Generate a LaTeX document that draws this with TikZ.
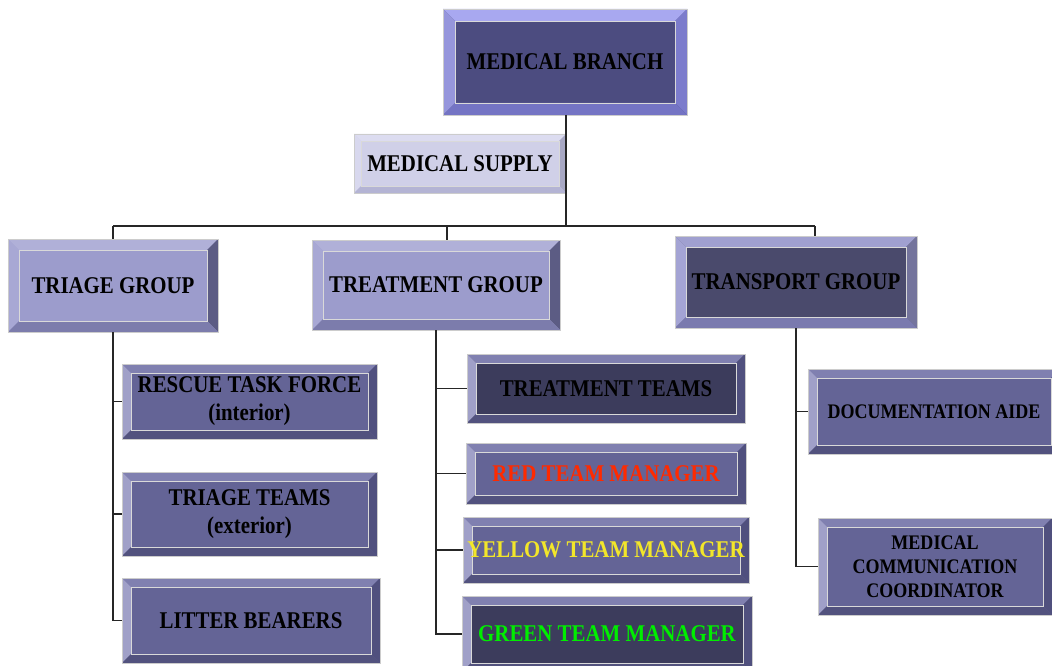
\documentclass[tikz,border=0pt]{standalone}
\usepackage{fontspec}
\setmainfont{Liberation Serif}[FakeStretch=0.87]
\usetikzlibrary{calc}
\definecolor{mbface}{HTML}{4C4C80}
\definecolor{mbtop}{HTML}{A8A8F0}
\definecolor{mbleft}{HTML}{9696DC}
\definecolor{mbright}{HTML}{7C7CCC}
\definecolor{mbbot}{HTML}{7474C4}
\definecolor{spface}{HTML}{D0D0E8}
\definecolor{sptop}{HTML}{DCDCF0}
\definecolor{spleft}{HTML}{D8D8EE}
\definecolor{spright}{HTML}{A8A8C4}
\definecolor{spbot}{HTML}{B4B4D4}
\definecolor{gpface}{HTML}{9C9CCC}
\definecolor{gptop}{HTML}{B0B0D8}
\definecolor{gpleft}{HTML}{A8A8D4}
\definecolor{gpright}{HTML}{5C5C84}
\definecolor{gpbot}{HTML}{7C7CAC}
\definecolor{tpface}{HTML}{4A4A6C}
\definecolor{tptop}{HTML}{A0A0D0}
\definecolor{tpleft}{HTML}{A4A4D4}
\definecolor{tpright}{HTML}{74749C}
\definecolor{tpbot}{HTML}{7A7AAE}
\definecolor{sbface}{HTML}{646496}
\definecolor{sbtop}{HTML}{8080B0}
\definecolor{sbleft}{HTML}{A0A0C8}
\definecolor{sbright}{HTML}{50507E}
\definecolor{sbbot}{HTML}{52527E}
\definecolor{dkface}{HTML}{3C3C5C}
\definecolor{redtxt}{HTML}{FF2A00}
\definecolor{yeltxt}{HTML}{F2E62A}
\definecolor{grntxt}{HTML}{00EE00}
\newcommand{\bevels}[5]{%
  \fill[#2] (path picture bounding box.north west) -- (path picture bounding box.north east)
     -- ([shift={(-#1,-#1)}]path picture bounding box.north east) -- ([shift={(#1,-#1)}]path picture bounding box.north west) -- cycle;
  \fill[#3] (path picture bounding box.north west) -- (path picture bounding box.south west)
     -- ([shift={(#1,#1)}]path picture bounding box.south west) -- ([shift={(#1,-#1)}]path picture bounding box.north west) -- cycle;
  \fill[#4] (path picture bounding box.north east) -- (path picture bounding box.south east)
     -- ([shift={(-#1,#1)}]path picture bounding box.south east) -- ([shift={(-#1,-#1)}]path picture bounding box.north east) -- cycle;
  \fill[#5] (path picture bounding box.south west) -- (path picture bounding box.south east)
     -- ([shift={(-#1,#1)}]path picture bounding box.south east) -- ([shift={(#1,#1)}]path picture bounding box.south west) -- cycle;
  \draw[white!85!black, line width=0.6pt] ([shift={(#1,-#1)}]path picture bounding box.north west) rectangle ([shift={(-#1,#1)}]path picture bounding box.south east);
}
\tikzset{
  box/.style={anchor=north west, inner sep=0pt, outer sep=0pt, align=center,
    draw=black!20, line width=0.8pt, font=\bfseries\fontsize{24}{28}\selectfont},
  smalltext/.style={font=\bfseries\fontsize{20.7}{24}\selectfont},
  branchbox/.style={box, fill=mbface, path picture={\bevels{12pt}{mbtop}{mbleft}{mbright}{mbbot}}},
  supplybox/.style={box, fill=spface, path picture={\bevels{7pt}{sptop}{spleft}{spright}{spbot}}},
  groupbox/.style={box, fill=gpface, path picture={\bevels{11pt}{gptop}{gpleft}{gpright}{gpbot}}},
  transbox/.style={box, fill=tpface, path picture={\bevels{11pt}{tptop}{tpleft}{tpright}{tpbot}}},
  subbox/.style={box, fill=sbface, path picture={\bevels{9pt}{sbtop}{sbleft}{sbright}{sbbot}}},
  darkbox/.style={box, fill=dkface, path picture={\bevels{9pt}{sbtop}{sbleft}{sbright}{sbbot}}},
  link/.style={draw=black!85, line width=1.2pt}
}
\newcommand{\bx}[7]{\node[#1, minimum width=#4-#2, minimum height=#5-#3] (#6) at (#2,#3) {#7};}
\begin{document}
\begin{tikzpicture}[x=1pt,y=-1pt]
\useasboundingbox (0,0) rectangle (1052,666);
\fill[white] (0,0) rectangle (1052,666);
\coordinate (busL) at (113,226);
\coordinate (busM) at (566,226);
\coordinate (busR) at (815,226);
% nodes
\bx{branchbox}{443}{9}{687}{115}{mb}{MEDICAL BRANCH}
\bx{supplybox}{354}{134}{566}{193}{sup}{MEDICAL SUPPLY}
\bx{groupbox}{8}{239}{218}{332}{tri}{TRIAGE GROUP}
\bx{groupbox}{312}{240}{560}{330}{trt}{TREATMENT GROUP}
\bx{transbox}{675}{236}{917}{328}{tra}{TRANSPORT GROUP}
\bx{subbox}{122}{364}{377}{439}{rtf}{RESCUE TASK FORCE\\(interior)}
\bx{subbox}{122}{472}{377}{556}{tts}{TRIAGE TEAMS\\(exterior)}
\bx{subbox}{122}{578}{380}{663}{lit}{LITTER BEARERS}
\bx{darkbox}{467}{354}{745}{423}{ttm}{TREATMENT TEAMS}
\bx{subbox}{466}{443}{746}{504}{red}{\color{redtxt}RED TEAM MANAGER}
\bx{subbox}{463}{517}{749}{583}{yel}{\color{yeltxt}YELLOW TEAM MANAGER}
\bx{darkbox}{462}{596}{752}{672}{grn}{\color{grntxt}GREEN TEAM MANAGER}
\bx{subbox,smalltext}{808}{369}{1060}{454}{doc}{DOCUMENTATION AIDE}
\bx{subbox,smalltext}{818}{518}{1052}{615}{mcc}{MEDICAL\\COMMUNICATION\\COORDINATOR}
% links
\draw[link] (mb.south -| busM) -- (busM);
\draw[link] (busL) -- (busR);
\draw[link] (busL) -- (tri.north);
\draw[link] (busM -| 447,0) -- (trt.north -| 447,0);
\draw[link] (busR) -- (tra.north -| busR);
\draw[link] (tri.south) |- (rtf.west);
\draw[link] (tri.south) |- (tts.west);
\draw[link] (tri.south) |- (lit.west);
\draw[link] (trt.south) |- (ttm.west);
\draw[link] (trt.south) |- (red.west);
\draw[link] (trt.south) |- (yel.west);
\draw[link] (trt.south) |- (grn.west);
\draw[link] (tra.south) |- (doc.west);
\draw[link] (tra.south) |- (mcc.west);
\end{tikzpicture}
\end{document}
